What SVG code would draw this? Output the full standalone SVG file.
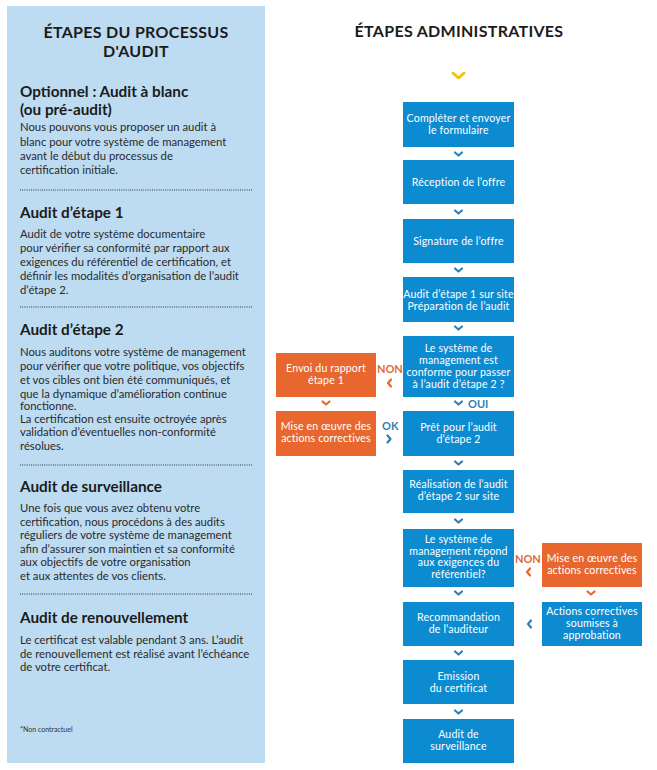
<svg xmlns="http://www.w3.org/2000/svg" width="657" height="770" viewBox="0 0 657 770">
<style>
.t{font-family:Lato,"Open Sans","Liberation Sans",sans-serif;fill:#1b1b1b}
.h1{font-size:16px;font-weight:700;letter-spacing:0.3px}
.h2{font-size:15.3px;font-weight:700}
.b{font-size:11.3px;fill:#2a2a2a}
.bx{fill:#0d8bd1}
.or{fill:#e8672f}
.w{font-family:Lato,"Open Sans","Liberation Sans",sans-serif;font-size:10.6px;letter-spacing:0.15px;fill:#ffffff;text-anchor:middle}
.ch{fill:none;stroke:#2f7fb5;stroke-width:2.2;stroke-linecap:round;stroke-linejoin:round}
.cho{fill:none;stroke:#e8672f;stroke-width:2.2;stroke-linecap:round;stroke-linejoin:round}
.lb{font-family:Lato,"Open Sans","Liberation Sans",sans-serif;font-size:11px;font-weight:700}
.sep{stroke:#333;stroke-width:1;stroke-dasharray:1 1.2}
</style>
<rect width="657" height="770" fill="#ffffff"/>
<g id="panel">
<rect x="7" y="6" width="258" height="757" fill="#bddcf2"/>
<text class="t h1" x="136" y="38" text-anchor="middle">ÉTAPES DU PROCESSUS</text>
<text class="t h1" x="136" y="57" text-anchor="middle">D'AUDIT</text>
<text class="t h2" x="20" y="96.5">Optionnel : Audit à blanc</text>
<text class="t h2" x="20" y="114.5">(ou pré-audit)</text>
<text class="t b" x="20" y="131">Nous pouvons vous proposer un audit à</text>
<text class="t b" x="20" y="145.5">blanc pour votre système de management</text>
<text class="t b" x="20" y="160">avant le début du processus de</text>
<text class="t b" x="20" y="174">certification initiale.</text>
<line class="sep" x1="20" y1="190" x2="252" y2="190"/>
<text class="t h2" x="20" y="218">Audit d’étape 1</text>
<text class="t b" x="20" y="238">Audit de votre système documentaire</text>
<text class="t b" x="20" y="252">pour vérifier sa conformité par rapport aux</text>
<text class="t b" x="20" y="266">exigences du référentiel de certification, et</text>
<text class="t b" x="20" y="280">définir les modalités d’organisation de l’audit</text>
<text class="t b" x="20" y="294">d’étape 2.</text>
<line class="sep" x1="20" y1="307" x2="252" y2="307"/>
<text class="t h2" x="20" y="335">Audit d’étape 2</text>
<text class="t b" x="20" y="356">Nous auditons votre système de management</text>
<text class="t b" x="20" y="370">pour vérifier que votre politique, vos objectifs</text>
<text class="t b" x="20" y="384">et vos cibles ont bien été communiqués, et</text>
<text class="t b" x="20" y="398">que la dynamique d’amélioration continue</text>
<text class="t b" x="20" y="410">fonctionne.</text>
<text class="t b" x="20" y="423">La certification est ensuite octroyée après</text>
<text class="t b" x="20" y="436">validation d’éventuelles non-conformité</text>
<text class="t b" x="20" y="450">résolues.</text>
<line class="sep" x1="20" y1="465" x2="252" y2="465"/>
<text class="t h2" x="20" y="492">Audit de surveillance</text>
<text class="t b" x="20" y="512">Une fois que vous avez obtenu votre</text>
<text class="t b" x="20" y="525.5">certification, nous procédons à des audits</text>
<text class="t b" x="20" y="539">réguliers de votre système de management</text>
<text class="t b" x="20" y="552.5">afin d’assurer son maintien et sa conformité</text>
<text class="t b" x="20" y="566">aux objectifs de votre organisation</text>
<text class="t b" x="20" y="579.5">et aux attentes de vos clients.</text>
<line class="sep" x1="20" y1="594" x2="252" y2="594"/>
<text class="t h2" x="20" y="623">Audit de renouvellement</text>
<text class="t b" x="20" y="644">Le certificat est valable pendant 3 ans. L’audit</text>
<text class="t b" x="20" y="657.5">de renouvellement est réalisé avant l’échéance</text>
<text class="t b" x="20" y="671">de votre certificat.</text>
<text class="t" x="20" y="732" style="font-size:7px;fill:#333">*Non contractuel</text>
</g>
<text class="t h1" x="459" y="37" text-anchor="middle">ÉTAPES ADMINISTRATIVES</text>
<g id="connectors">
<polyline points="453,73 458.5,78 464,73" fill="none" stroke="#f5c400" stroke-width="3" stroke-linecap="round" stroke-linejoin="round"/>
<polyline class="ch" points="455,152.5 458.5,155.5 462,152.5"/>
<polyline class="ch" points="455,210.5 458.5,213.5 462,210.5"/>
<polyline class="ch" points="455,268.5 458.5,271.5 462,268.5"/>
<polyline class="ch" points="455,326.5 458.5,329.5 462,326.5"/>
<polyline class="ch" points="455,401.5 458.5,404.5 462,401.5"/>
<polyline class="ch" points="455,461.5 458.5,464.5 462,461.5"/>
<polyline class="ch" points="455,519.5 458.5,522.5 462,519.5"/>
<polyline class="ch" points="455,591.5 458.5,594.5 462,591.5"/>
<polyline class="ch" points="455,651.5 458.5,654.5 462,651.5"/>
<polyline class="ch" points="455,710.5 458.5,713.5 462,710.5"/>
<polyline class="cho" points="391,379.5 388,383 391,386.5"/>
<polyline class="cho" points="322.5,401.5 326,404.5 329.5,401.5"/>
<polyline class="ch" points="387.5,435.5 390.5,439 387.5,442.5"/>
<polyline class="cho" points="530,568.5 527,572 530,575.5"/>
<polyline class="cho" points="587.5,591.5 591,594.5 594.5,591.5"/>
<polyline class="ch" points="531,620.5 528,624 531,627.5"/>
<text class="lb" x="377" y="373" fill="#e2673a">NON</text>
<text class="lb" x="468" y="408" fill="#2f7fb5">OUI</text>
<text class="lb" x="382" y="430" fill="#2f7fb5">OK</text>
<text class="lb" x="515" y="563" fill="#e2673a">NON</text>
</g>
<g id="n1"><rect class="bx" x="403" y="102" width="111" height="45"/><text class="w" x="458.5" y="121.5">Compléter et envoyer</text><text class="w" x="458.5" y="133.5">le formulaire</text></g>
<g id="n2"><rect class="bx" x="403" y="160" width="111" height="44"/><text class="w" x="458.5" y="186">Réception de l’offre</text></g>
<g id="n3"><rect class="bx" x="403" y="219" width="111" height="44"/><text class="w" x="458.5" y="245">Signature de l’offre</text></g>
<g id="n4"><rect class="bx" x="403" y="277" width="111" height="45"/><text class="w" x="458.5" y="297.5">Audit d’étape 1 sur site</text><text class="w" x="458.5" y="309.5">Préparation de l’audit</text></g>
<g id="n5"><rect class="bx" x="403" y="336" width="111" height="61"/><text class="w" x="458.5" y="351.5">Le système de</text><text class="w" x="458.5" y="363.5">management est</text><text class="w" x="458.5" y="375.5">conforme pour passer</text><text class="w" x="458.5" y="387.5">à l’audit d’étape 2 ?</text></g>
<g id="n6"><rect class="bx" x="403" y="411" width="111" height="45"/><text class="w" x="458.5" y="430.5">Prêt pour l’audit</text><text class="w" x="458.5" y="442.5">d’étape 2</text></g>
<g id="n7"><rect class="bx" x="403" y="470" width="111" height="43"/><text class="w" x="458.5" y="488">Réalisation de l’audit</text><text class="w" x="458.5" y="500">d’étape 2 sur site</text></g>
<g id="n8"><rect class="bx" x="403" y="529" width="111" height="58"/><text class="w" x="458.5" y="542.5">Le système de</text><text class="w" x="458.5" y="554.5">management répond</text><text class="w" x="458.5" y="566">aux exigences du</text><text class="w" x="458.5" y="577.5">référentiel?</text></g>
<g id="n9"><rect class="bx" x="403" y="602" width="111" height="44"/><text class="w" x="458.5" y="621">Recommandation</text><text class="w" x="458.5" y="633">de l’auditeur</text></g>
<g id="n10"><rect class="bx" x="403" y="660" width="111" height="44"/><text class="w" x="458.5" y="679.5">Emission</text><text class="w" x="458.5" y="691.5">du certificat</text></g>
<g id="n11"><rect class="bx" x="403" y="719" width="111" height="44"/><text class="w" x="458.5" y="737.5">Audit de</text><text class="w" x="458.5" y="749.5">surveillance</text></g>
<g id="o1"><rect class="or" x="276" y="353" width="100" height="44"/><text class="w" x="326" y="371.5">Envoi du rapport</text><text class="w" x="326" y="383.5">étape 1</text></g>
<g id="o2"><rect class="or" x="276" y="411" width="100" height="45"/><text class="w" x="326" y="429.5">Mise en œuvre des</text><text class="w" x="326" y="441.5">actions correctives</text></g>
<g id="o3"><rect class="or" x="542" y="543" width="100" height="44"/><text class="w" x="592" y="561.5">Mise en œuvre des</text><text class="w" x="592" y="573.5">actions correctives</text></g>
<g id="b12"><rect class="bx" x="542" y="602" width="100" height="44"/><text class="w" x="592" y="614.5">Actions correctives</text><text class="w" x="592" y="626.5">soumises à</text><text class="w" x="592" y="638.5">approbation</text></g>
</svg>
